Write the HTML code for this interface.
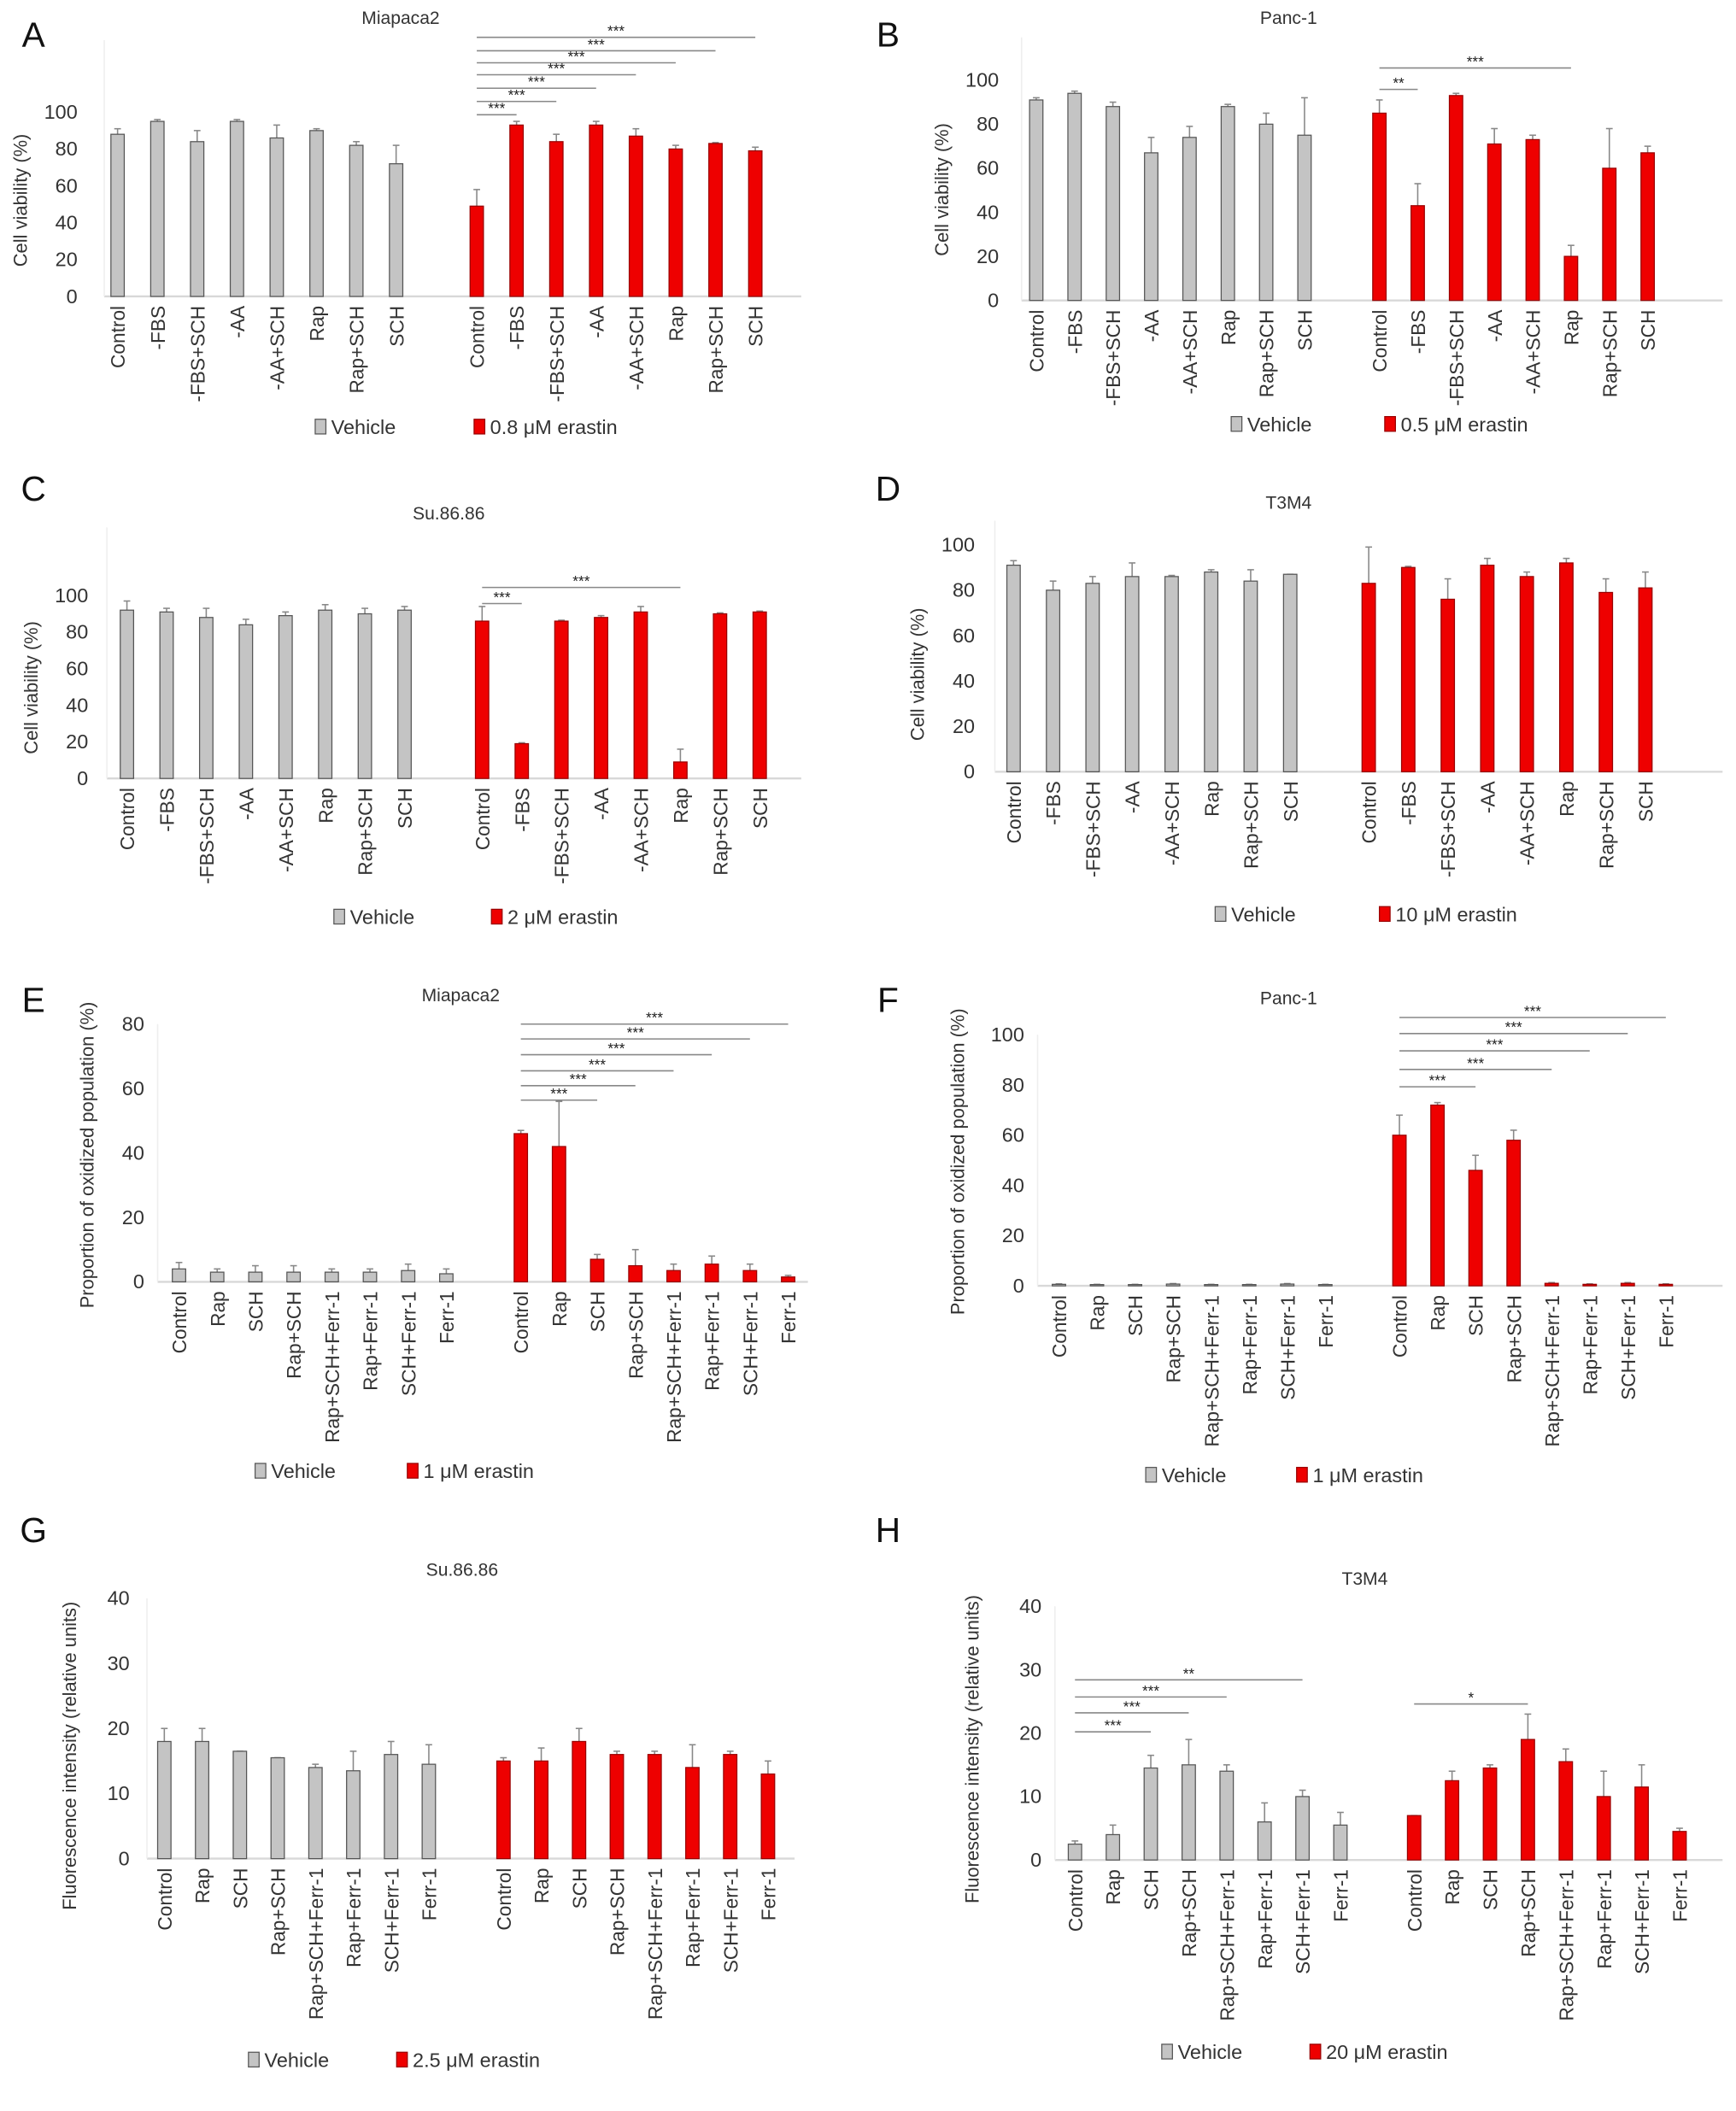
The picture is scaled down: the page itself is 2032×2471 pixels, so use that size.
<!DOCTYPE html>
<html><head><meta charset="utf-8"><style>
html,body{margin:0;padding:0;background:#fff;}
svg{display:block;font-family:"Liberation Sans",Arial,sans-serif;}
</style></head><body>
<svg id="fig" width="2032" height="2471" viewBox="0 0 1300 1581" xmlns="http://www.w3.org/2000/svg"></svg>
<script>
// ---- data ----
const catsViability = ["Control","-FBS","-FBS+SCH","-AA","-AA+SCH","Rap","Rap+SCH","SCH"];
const catsFerr = ["Control","Rap","SCH","Rap+SCH","Rap+SCH+Ferr-1","Rap+Ferr-1","SCH+Ferr-1","Ferr-1"];

const vehA=[88,95,84,95,86,90,82,72], vehErrA=[3,1,6,1,7,1,2,10];
const eraA=[49,93,84,93,87,80,83,79], eraErrA=[9,2,4,2,4,2,0.5,2];
const vehB=[91,94,88,67,74,88,80,75], vehErrB=[1,1,2,7,5,1,5,17];
const eraB=[85,43,93,71,73,20,60,67], eraErrB=[6,10,1,7,2,5,18,3];
const vehC=[92,91,88,84,89,92,90,92], vehErrC=[5,2,5,3,2,3,3,2];
const eraC=[86,19,86,88,91,9,90,91], eraErrC=[8,0.5,0.5,1,3,7,0.5,0.5];
const vehD=[91,80,83,86,86,88,84,87], vehErrD=[2,4,3,6,0.5,1,5,0];
const eraD=[83,90,76,91,86,92,79,81], eraErrD=[16,0.5,9,3,2,2,6,7];
const vehE=[4,3,3,3,3,3,3.5,2.5], vehErrE=[2,1,2,2,1,1,2,1.5];
const eraE=[46,42,7,5,3.5,5.5,3.5,1.5], eraErrE=[1,14,1.5,5,2,2.5,2,0.5];
const vehF=[0.6,0.5,0.5,0.7,0.5,0.5,0.7,0.5], vehErrF=[0.2,0.1,0.1,0.2,0.1,0.1,0.2,0.1];
const eraF=[60,72,46,58,1,0.6,1,0.6], eraErrF=[8,1,6,4,0.3,0.2,0.3,0.2];
const vehG=[18,18,16.5,15.5,14,13.5,16,14.5], vehErrG=[2,2,0,0,0.5,3,2,3];
const eraG=[15,15,18,16,16,14,16,13], eraErrG=[0.5,2,2,0.5,0.5,3.5,0.5,2];
const vehH=[2.5,4,14.5,15,14,6,10,5.5], vehErrH=[0.5,1.5,2,4,1,3,1,2];
const eraH=[7,12.5,14.5,19,15.5,10,11.5,4.5], eraErrH=[0,1.5,0.5,4,2,4,3.5,0.5];

const ticks100=[0,20,40,60,80,100], ticks80=[0,20,40,60,80], ticks40=[0,10,20,30,40];

// significance brackets: [group, fromIdx, toIdx, level(data units), label]
const sigA=[["e",0,7,140.6,"***"],["e",0,6,133.3,"***"],["e",0,5,126.8,"***"],["e",0,4,120.3,"***"],["e",0,3,113,"***"],["e",0,2,105.8,"***"],["e",0,1,98.6,"***"]];
const sigB=[["e",0,1,95.8,"**"],["e",0,5,105.5,"***"]];
const sigC=[["e",0,1,95.6,"***"],["e",0,5,104.4,"***"]];
const sigE=[["e",0,7,80,"***"],["e",0,6,75.4,"***"],["e",0,5,70.5,"***"],["e",0,4,65.5,"***"],["e",0,3,60.9,"***"],["e",0,2,56.4,"***"]];
const sigF=[["e",0,7,106.9,"***"],["e",0,6,100.5,"***"],["e",0,5,93.6,"***"],["e",0,4,86.2,"***"],["e",0,2,79.3,"***"]];
const sigH=[["v",0,6,28.4,"**"],["v",0,4,25.7,"***"],["v",0,3,23.2,"***"],["v",0,2,20.2,"***"],["e",0,3,24.6,"*"]];

// ---- layout (pixels, separate from data) ----
const panels=[
 {id:"a",letter:"A",lx:25,ly:35,title:"Miapaca2",tx:300,ty:18,cats:catsViability,veh:vehA,vehE:vehErrA,era:eraA,eraE:eraErrA,ticks:ticks100,max:100,y0:222,ppu:1.38,ax0:78,ax1:600,axTop:30,g0:88,step:29.8,r0:357,tickX:58,yt:"Cell viability (%)",ytx:20,yty:150,legY:325,legG:236,legR:355,era_lbl:"0.8 μM erastin",sig:sigA},
 {id:"b",letter:"B",lx:665,ly:35,title:"Panc-1",tx:965,ty:18,cats:catsViability,veh:vehB,vehE:vehErrB,era:eraB,eraE:eraErrB,ticks:ticks100,max:100,y0:225,ppu:1.65,ax0:765,ax1:1290,axTop:28,g0:776,step:28.7,r0:1033,tickX:748,yt:"Cell viability (%)",ytx:710,yty:142,legY:323,legG:922,legR:1037,era_lbl:"0.5 μM erastin",sig:sigB},
 {id:"c",letter:"C",lx:25,ly:375,title:"Su.86.86",tx:336,ty:389,cats:catsViability,veh:vehC,vehE:vehErrC,era:eraC,eraE:eraErrC,ticks:ticks100,max:100,y0:583,ppu:1.37,ax0:80,ax1:600,axTop:395,g0:95,step:29.7,r0:361,tickX:66,yt:"Cell viability (%)",ytx:28,yty:515,legY:692,legG:250,legR:368,era_lbl:"2 μM erastin",sig:sigC},
 {id:"d",letter:"D",lx:665,ly:375,title:"T3M4",tx:965,ty:381,cats:catsViability,veh:vehD,vehE:vehErrD,era:eraD,eraE:eraErrD,ticks:ticks100,max:100,y0:578,ppu:1.70,ax0:745,ax1:1290,axTop:390,g0:759,step:29.6,r0:1025,tickX:730,yt:"Cell viability (%)",ytx:692,yty:505,legY:690,legG:910,legR:1033,era_lbl:"10 μM erastin",sig:[]},
 {id:"e",letter:"E",lx:25,ly:758,title:"Miapaca2",tx:345,ty:750,cats:catsFerr,veh:vehE,vehE:vehErrE,era:eraE,eraE:eraErrE,ticks:ticks80,max:80,y0:960,ppu:2.4125,ax0:118,ax1:605,axTop:767,g0:134,step:28.6,r0:390,tickX:108,yt:"Proportion of oxidized population (%)",ytx:70,yty:865,legY:1107,legG:191,legR:305,era_lbl:"1 μM erastin",sig:sigE},
 {id:"f",letter:"F",lx:665,ly:758,title:"Panc-1",tx:965,ty:752,cats:catsFerr,veh:vehF,vehE:vehErrF,era:eraF,eraE:eraErrF,ticks:ticks100,max:100,y0:963,ppu:1.88,ax0:777,ax1:1290,axTop:775,g0:793,step:28.5,r0:1048,tickX:767,yt:"Proportion of oxidized population (%)",ytx:722,yty:870,legY:1110,legG:858,legR:971,era_lbl:"1 μM erastin",sig:sigF},
 {id:"g",letter:"G",lx:25,ly:1155,title:"Su.86.86",tx:346,ty:1180,cats:catsFerr,veh:vehG,vehE:vehErrG,era:eraG,eraE:eraErrG,ticks:ticks40,max:40,y0:1392,ppu:4.875,ax0:110,ax1:595,axTop:1197,g0:123,step:28.3,r0:377,tickX:97,yt:"Fluorescence intensity (relative units)",ytx:57,yty:1315,legY:1548,legG:186,legR:297,era_lbl:"2.5 μM erastin",sig:[]},
 {id:"h",letter:"H",lx:665,ly:1155,title:"T3M4",tx:1022,ty:1187,cats:catsFerr,veh:vehH,vehE:vehErrH,era:eraH,eraE:eraErrH,ticks:ticks40,max:40,y0:1393,ppu:4.75,ax0:790,ax1:1290,axTop:1203,g0:805,step:28.4,r0:1059,tickX:780,yt:"Fluorescence intensity (relative units)",ytx:733,yty:1310,legY:1542,legG:870,legR:981,era_lbl:"20 μM erastin",sig:sigH}
];

const NS="http://www.w3.org/2000/svg";
const svg=document.getElementById("fig");
function mk(tag,attrs,parent,text){
  const e=document.createElementNS(NS,tag);
  for(const k in attrs)e.setAttribute(k,attrs[k]);
  if(text!==undefined)e.textContent=text;
  parent.appendChild(e);return e;
}
const BW=10;
panels.forEach(p=>{
  const g=mk("g",{},svg);
  
  
  const yS=v=>p.y0-v*p.ppu;
  const xG=i=>p.g0+i*p.step;
  const xR=i=>p.r0+i*p.step;
  let t=mk("text",{x:p.lx,y:p.ly,"font-size":26,"text-anchor":"middle",fill:"#111"},g,p.letter);
  
  
  t=mk("text",{x:p.tx,y:p.ty,"font-size":13.5,"text-anchor":"middle",fill:"#333"},g,p.title);
  
  
  let a=mk("line",{x1:p.ax0,y1:p.y0,x2:p.ax1,y2:p.y0,stroke:"#d8d8d8","stroke-width":1.5},g);
  
  
  a=mk("line",{x1:p.ax0,y1:p.y0,x2:p.ax0,y2:p.axTop,stroke:"#eee","stroke-width":1},g);
  
  
  p.ticks.forEach(v=>{
    const tt=mk("text",{x:p.tickX,y:yS(v)+5,"font-size":15,"text-anchor":"end",fill:"#333"},g,String(v));
    
    
  });
  t=mk("text",{"font-size":14,"text-anchor":"middle",fill:"#333",transform:`translate(${p.ytx},${p.yty}) rotate(-90)`},g,p.yt);
  
  
  function series(vals,errs,xf,fill,stroke,nm){
    vals.forEach((v,i)=>{
      const x=xf(i);
      const top=yS(v);
      const eb=yS(v+errs[i]);
      const ln=mk("line",{x1:x,y1:top,x2:x,y2:eb,stroke:"#888","stroke-width":1},g);
      
      
      const cp=mk("line",{x1:x-2.5,y1:eb,x2:x+2.5,y2:eb,stroke:"#888","stroke-width":1},g);
      
      
      const r=mk("rect",{x:x-BW/2,y:top,width:BW,height:Math.max(p.y0-top,0.5),fill:fill,stroke:stroke,"stroke-width":0.8},g);
      
      
      const lb=mk("text",{"font-size":14.5,"text-anchor":"end",fill:"#333",transform:`translate(${x+5.5},${p.y0+7}) rotate(-90)`},g,p.cats[i]);
      
      
    });
  }
  series(p.veh,p.vehE,xG,"#c4c4c4","#555","vehicle");
  series(p.era,p.eraE,xR,"#ee0000","#900","erastin");
  p.sig.forEach(s=>{
    const xf=s[0]==="v"?xG:xR;
    const x1=xf(s[1]),x2=xf(s[2]),y=yS(s[3]);
    const l=mk("line",{x1:x1,y1:y,x2:x2,y2:y,stroke:"#888","stroke-width":1},g);
    
    
    const st=mk("text",{x:(x1+x2)/2,y:y-1,"font-size":11,"text-anchor":"middle",fill:"#222"},g,s[4]);
    
    
  });
  let r=mk("rect",{x:p.legG,y:p.legY-11,width:8,height:11,fill:"#c4c4c4",stroke:"#555","stroke-width":0.8},g);
  
  
  t=mk("text",{x:p.legG+12,y:p.legY,"font-size":15,fill:"#333"},g,"Vehicle");
  
  
  r=mk("rect",{x:p.legR,y:p.legY-11,width:8,height:11,fill:"#ee0000",stroke:"#900","stroke-width":0.8},g);
  
  
  t=mk("text",{x:p.legR+12,y:p.legY,"font-size":15,fill:"#333"},g,p.era_lbl);
  
  
});
</script>
</body></html>
